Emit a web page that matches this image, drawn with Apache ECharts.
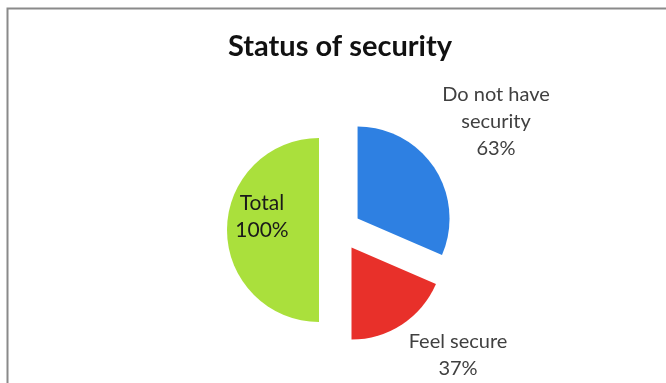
<!DOCTYPE html>
<html>
<head>
<meta charset="utf-8">
<script src="https://cdn.jsdelivr.net/npm/echarts@6/dist/echarts.min.js"></script>
<style>
html,body{margin:0;padding:0;background:#fff;}
#chart{width:666px;height:383px;}
</style>
</head>
<body>
<div id="chart"></div>
<script>
// Data
var categories = ['Do not have\nsecurity', 'Feel secure', 'Total'];
var values = [63, 37, 100];
var percentLabels = ['63%', '37%', '100%'];
var colors = ['#2E80E2', '#E8302A', '#AAE03C'];

// Label styling / positions (layout only)
var labelPos = [[496, 122], [458, 355], [262, 217]];
var labelColors = ['#404040', '#404040', '#1a1a1a'];
var labelSizes = [20, 20, 21];

var labelGraphics = categories.map(function (c, i) {
  return {
    type: 'text',
    x: labelPos[i][0],
    y: labelPos[i][1],
    silent: true,
    z: 100,
    style: {
      text: c + '\n' + percentLabels[i],
      fill: labelColors[i],
      font: labelSizes[i] + 'px Lato',
      lineHeight: 27,
      align: 'center',
      verticalAlign: 'middle'
    }
  };
});

var chart = echarts.init(document.getElementById('chart'));
var option = {
  backgroundColor: '#ffffff',
  animation: false,
  title: {
    text: 'Status of security',
    left: 335,
    top: 27,
    textAlign: 'center',
    textStyle: { fontFamily: 'Lato', fontWeight: 'bold', fontSize: 29, color: '#111' }
  },
  graphic: [{
    type: 'rect',
    shape: { x: 7.5, y: 8.5, width: 700, height: 400 },
    style: { fill: 'none', stroke: '#8a8a8a', lineWidth: 2 },
    silent: true
  }].concat(labelGraphics),
  series: [{
    type: 'pie',
    center: [340, 230],
    radius: 92,
    startAngle: 90,
    clockwise: true,
    selectedMode: 'multiple',
    selectedOffset: 21,
    emphasis: { disabled: true },
    labelLine: { show: false },
    label: { show: false },
    data: values.map(function (v, i) {
      return {
        name: categories[i],
        value: v,
        selected: true,
        itemStyle: { color: colors[i] }
      };
    })
  }]
};
chart.setOption(option);
</script>
</body>
</html>
